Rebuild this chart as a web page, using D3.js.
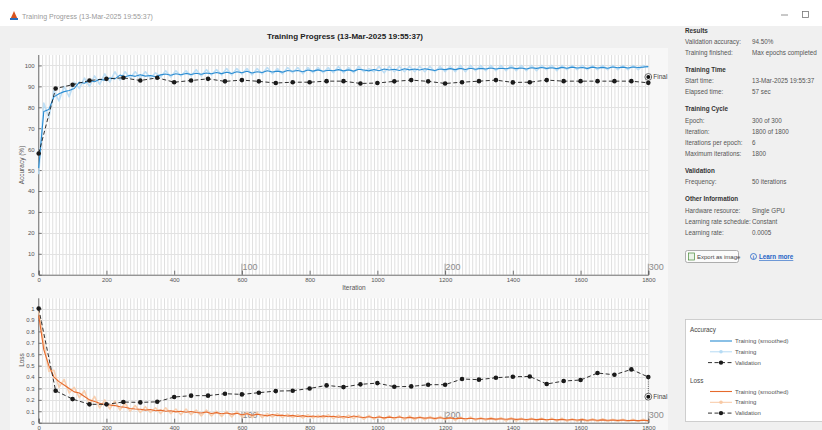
<!DOCTYPE html>
<html>
<head>
<meta charset="utf-8">
<script src="https://cdn.jsdelivr.net/npm/d3@7"></script>
<style>
  html, body { margin: 0; padding: 0; background: #f0f0f0; }
  svg { display: block; font-family: "Liberation Sans", Arial, sans-serif; }
</style>
</head>
<body>
<svg id="fig" width="822" height="430"></svg>
<script>
// ---- Training run data ----
const maxIterations = 1800;
const iterationsPerEpoch = 6;
const epochMarks = [100, 200, 300];
const trainStep = 15;                       // training curves sampled every 15 iterations
const trainIterations = d3.range(0, maxIterations + 1, trainStep);
const validationIterations = d3.range(0, maxIterations + 1, 50);

const accTicks = [0, 10, 20, 30, 40, 50, 60, 70, 80, 90, 100];
const lossTicks = [0, 0.1, 0.2, 0.3, 0.4, 0.5, 0.6, 0.7, 0.8, 0.9, 1];
const iterTicks = [0, 200, 400, 600, 800, 1000, 1200, 1400, 1600, 1800];

const trainAccSmoothed = [
  51, 78, 79, 85, 86.5, 87.5, 88, 89, 92, 91.5,
  92.8, 92.2, 93.4, 93, 94, 93.6, 95.4, 94.6, 95.3, 94.8,
  95.6, 94.9, 95.2, 94.6, 95.5, 95.9, 95.3, 96.0, 95.6, 96.2,
  95.7, 96.3, 95.8, 96.4, 96.0, 96.6, 96.1, 96.8, 96.2, 97.0,
  96.5, 97.2, 96.4, 97.0, 96.6, 97.5, 96.9, 97.3, 96.8, 97.6,
  97.2, 97.6, 97.0, 97.8, 97.3, 97.9, 97.2, 97.7, 97.5, 98.0,
  97.4, 97.9, 97.3, 98.2, 97.8, 97.4, 98.1, 97.5, 98.3, 97.8,
  98.2, 97.6, 98.4, 97.9, 98.3, 97.8, 98.4, 98.0, 97.6, 98.3,
  98.0, 98.5, 98.0, 98.6, 98.1, 98.7, 98.2, 98.6, 98.3, 98.8,
  98.3, 98.7, 98.4, 98.9, 98.5, 98.8, 98.3, 98.9, 98.6, 99.0,
  98.6, 98.9, 98.5, 99.1, 98.7, 99.2, 98.8, 99.0, 98.6, 99.2,
  98.8, 99.1, 98.7, 99.3, 98.9, 99.2, 98.8, 99.3, 99.0, 99.2,
  99.5
];
const trainAccRaw = [
  48, 82, 75, 88, 83, 90, 85, 92, 89, 94,
  90, 95, 91, 96, 92, 97, 93, 97, 94, 97,
  94, 97, 94, 96.5, 94.5, 97.5, 94.5, 97.5, 95, 97.5,
  95, 98, 95, 98, 95.5, 98, 95.5, 98.5, 95.5, 98.5,
  96, 98.5, 95.5, 98.5, 96, 99, 96, 98.5, 96, 99,
  96.5, 99, 96, 99, 96.5, 99, 96.5, 99, 96.5, 99.5,
  96.5, 99, 96.5, 99.5, 97, 98.5, 97, 99.5, 96.5, 99.5,
  97, 99.5, 97, 99.5, 97, 99.5, 97, 99.5, 97, 99.5,
  97, 99.5, 97, 100, 97, 100, 97.5, 100, 97.5, 100,
  97.5, 100, 97.5, 100, 97.5, 100, 97.5, 100, 97.5, 100,
  98, 100, 97.5, 100, 98, 100, 98, 100, 98, 100,
  98, 100, 98, 100, 98, 100, 98, 100, 98, 100,
  99
];
const validationAcc = [
  57.9, 89.0, 90.8, 92.8, 93.6, 94.1, 92.8, 94.1, 92.0, 92.8,
  93.6, 92.4, 93.0, 92.4, 91.6, 92.0, 92.0, 92.5, 92.5, 91.4,
  91.6, 92.4, 93.0, 92.4, 91.4, 92.0, 92.5, 93.0, 91.9, 92.0,
  93.0, 92.5, 92.5, 92.5, 92.5, 92.5, 91.7
];
const finalAcc = 94.5;

const trainLossSmoothed = [
  0.94, 0.64, 0.5, 0.4, 0.36, 0.33, 0.3, 0.27, 0.26, 0.23,
  0.2, 0.185, 0.17, 0.16, 0.155, 0.15, 0.14, 0.135, 0.125, 0.12,
  0.118, 0.11, 0.115, 0.105, 0.11, 0.1, 0.105, 0.095, 0.1, 0.092,
  0.098, 0.09, 0.085, 0.094, 0.08, 0.088, 0.078, 0.085, 0.075, 0.082,
  0.07, 0.078, 0.066, 0.074, 0.068, 0.06, 0.072, 0.062, 0.066, 0.058,
  0.064, 0.055, 0.062, 0.052, 0.058, 0.05, 0.06, 0.052, 0.056, 0.048,
  0.055, 0.046, 0.058, 0.05, 0.045, 0.052, 0.044, 0.05, 0.042, 0.049,
  0.043, 0.05, 0.041, 0.047, 0.04, 0.046, 0.04, 0.044, 0.038, 0.043,
  0.037, 0.042, 0.035, 0.04, 0.034, 0.039, 0.033, 0.037, 0.032, 0.036,
  0.031, 0.035, 0.03, 0.034, 0.029, 0.033, 0.028, 0.032, 0.027, 0.031,
  0.026, 0.03, 0.025, 0.029, 0.024, 0.028, 0.023, 0.027, 0.022, 0.026,
  0.022, 0.025, 0.021, 0.024, 0.02, 0.023, 0.019, 0.022, 0.018, 0.021,
  0.018
];
const trainLossRaw = [
  0.98, 0.7, 0.45, 0.46, 0.31, 0.38, 0.26, 0.31, 0.22, 0.28,
  0.16, 0.23, 0.13, 0.2, 0.12, 0.19, 0.11, 0.17, 0.1, 0.15,
  0.09, 0.14, 0.09, 0.13, 0.08, 0.13, 0.08, 0.12, 0.07, 0.12,
  0.07, 0.11, 0.06, 0.11, 0.06, 0.1, 0.055, 0.1, 0.05, 0.1,
  0.05, 0.09, 0.045, 0.09, 0.045, 0.08, 0.05, 0.08, 0.045, 0.075,
  0.045, 0.07, 0.04, 0.07, 0.04, 0.065, 0.04, 0.07, 0.035, 0.065,
  0.035, 0.065, 0.035, 0.065, 0.03, 0.065, 0.03, 0.06, 0.03, 0.06,
  0.03, 0.06, 0.025, 0.06, 0.025, 0.055, 0.025, 0.055, 0.025, 0.055,
  0.025, 0.05, 0.02, 0.05, 0.02, 0.05, 0.02, 0.045, 0.02, 0.045,
  0.02, 0.045, 0.015, 0.045, 0.015, 0.04, 0.015, 0.04, 0.015, 0.04,
  0.015, 0.04, 0.012, 0.04, 0.012, 0.035, 0.012, 0.035, 0.01, 0.035,
  0.01, 0.035, 0.01, 0.03, 0.01, 0.03, 0.008, 0.03, 0.008, 0.03,
  0.01
];
const validationLoss = [
  1.0, 0.28, 0.207, 0.161, 0.161, 0.181, 0.178, 0.183, 0.225, 0.237,
  0.237, 0.254, 0.248, 0.263, 0.277, 0.28, 0.30, 0.327, 0.312, 0.336,
  0.347, 0.315, 0.318, 0.333, 0.333, 0.383, 0.377, 0.394, 0.403, 0.405,
  0.339, 0.365, 0.374, 0.435, 0.42, 0.467, 0.40
];
const finalLoss = 0.228;

// Info panel content
const infoSections = [
  { title: "Results", rows: [
    ["Validation accuracy:", "94.50%"],
    ["Training finished:", "Max epochs completed"] ] },
  { title: "Training Time", rows: [
    ["Start time:", "13-Mar-2025 19:55:37"],
    ["Elapsed time:", "57 sec"] ] },
  { title: "Training Cycle", rows: [
    ["Epoch:", "300 of 300"],
    ["Iteration:", "1800 of 1800"],
    ["Iterations per epoch:", "6"],
    ["Maximum iterations:", "1800"] ] },
  { title: "Validation", rows: [
    ["Frequency:", "50 iterations"] ] },
  { title: "Other Information", rows: [
    ["Hardware resource:", "Single GPU"],
    ["Learning rate schedule:", "Constant"],
    ["Learning rate:", "0.0005"] ] }
];

// ---- Colours ----
const C = {
  accSmooth: "#2a8cd2", accRaw: "#b5dbf4",
  lossSmooth: "#e66a2c", lossRaw: "#f8c9a4",
  val: "#1a1a1a", axis: "#555", tickText: "#555",
  vgrid: "#dcdcdc", hgrid: "#e2e2e2"
};

const svg = d3.select("#fig");

// window frame
svg.append("rect").attr("x", 0).attr("y", 0).attr("width", 822).attr("height", 430).attr("fill", "#f0f0f0");
svg.append("rect").attr("x", 0).attr("y", 0).attr("width", 822).attr("height", 26).attr("fill", "#ffffff");
// app icon
svg.append("path").attr("d", "M10,20 L14,11 L18,20 Z").attr("fill", "#d9531e");
svg.append("rect").attr("x", 10).attr("y", 18).attr("width", 8).attr("height", 2).attr("fill", "#2a6ebb");
svg.append("text").attr("x", 22).attr("y", 18.5).attr("font-size", 7).attr("fill", "#9a9a9a")
  .text("Training Progress (13-Mar-2025 19:55:37)");
svg.append("line").attr("x1", 781).attr("x2", 788).attr("y1", 15).attr("y2", 15).attr("stroke", "#777").attr("stroke-width", 0.8);
svg.append("rect").attr("x", 802.5).attr("y", 11.5).attr("width", 6).attr("height", 6).attr("fill", "none").attr("stroke", "#777").attr("stroke-width", 0.8);

// plot panel backdrop
svg.append("rect").attr("x", 10).attr("y", 48).attr("width", 658).attr("height", 382).attr("fill", "#f7f7f7");

svg.append("text").attr("x", 345).attr("y", 39).attr("text-anchor", "middle")
  .attr("font-size", 8).attr("font-weight", "bold").attr("fill", "#222")
  .text("Training Progress (13-Mar-2025 19:55:37)");

// ---- Scales ----
const x = d3.scaleLinear().domain([0, maxIterations]).range([38.7, 648.3]);
const yAcc = d3.scaleLinear().domain([0, 105]).range([274.7, 55]);
const yLoss = d3.scaleLinear().domain([0, 1.09]).range([422.7, 298.3]);

function drawPanel(opts) {
  const { y, ticks, fmt, label, labelY, clipId } = opts;
  const [y0, y1] = y.range();
  const g = svg.append("g");
  g.append("rect").attr("x", x(0)).attr("y", y1).attr("width", x(maxIterations) - x(0)).attr("height", y0 - y1).attr("fill", "#ffffff");
  // thin vertical lines every 10 iterations
  g.append("g").selectAll("line").data(d3.range(0, maxIterations + 1, 10)).join("line")
    .attr("x1", d => x(d) + 0.5).attr("x2", d => x(d) + 0.5)
    .attr("y1", y1).attr("y2", y0).attr("stroke", C.vgrid).attr("stroke-width", 0.9);
  // horizontal grid at ticks
  g.append("g").selectAll("line").data(ticks).join("line")
    .attr("x1", x(0)).attr("x2", x(maxIterations))
    .attr("y1", d => Math.round(y(d)) + 0.5).attr("y2", d => Math.round(y(d)) + 0.5)
    .attr("stroke", C.hgrid).attr("stroke-width", 1);
  // epoch markers
  epochMarks.forEach(ep => {
    const xi = x(ep * iterationsPerEpoch);
    g.append("line").attr("x1", xi).attr("x2", xi).attr("y1", y0 - 11).attr("y2", y0)
      .attr("stroke", "#8c8c8c").attr("stroke-width", 0.8);
    g.append("text").attr("x", xi + 0.5).attr("y", y0 - 5).attr("font-size", 9).attr("fill", "#8c8c8c").text(ep);
  });
  // axes with inward ticks
  const ax = g.append("g").attr("transform", `translate(${x(0)},0)`)
    .call(d3.axisLeft(y).tickValues(ticks).tickFormat(fmt).tickSize(-3).tickPadding(4));
  const bx = g.append("g").attr("transform", `translate(0,${y0})`)
    .call(d3.axisBottom(x).tickValues(iterTicks).tickFormat(d3.format("d")).tickSize(-4).tickPadding(3));
  [ax, bx].forEach(a => {
    a.select(".domain").attr("stroke", C.axis).attr("stroke-width", 0.8);
    a.selectAll(".tick line").attr("stroke", C.axis).attr("stroke-width", 0.8);
    a.selectAll(".tick text").attr("font-size", 6).attr("fill", C.tickText)
      .attr("font-family", "Liberation Sans, Arial, sans-serif");
  });
  ax.select(".domain").attr("d", `M0,${y1}V${y0}`);
  g.append("text").attr("transform", `translate(24,${labelY}) rotate(-90)`)
    .attr("text-anchor", "middle").attr("font-size", 6.5).attr("fill", "#555").text(label);
  svg.append("clipPath").attr("id", clipId).append("rect")
    .attr("x", x(0) - 4).attr("y", y1 - 4).attr("width", x(maxIterations) - x(0) + 8).attr("height", y0 - y1 + 4);
  return g;
}

function drawSeries(g, y, raw, smooth, val, finalVal, rawColor, smoothColor, clipId) {
  const plot = g.append("g").attr("clip-path", `url(#${clipId})`);
  const line = d3.line().x((d, i) => x(trainIterations[i])).y(d => y(d));
  plot.append("path").attr("d", line(raw)).attr("fill", "none")
    .attr("stroke", rawColor).attr("stroke-width", 1.6).attr("stroke-linejoin", "round").attr("opacity", 0.85);
  plot.append("path").attr("d", line(smooth)).attr("fill", "none")
    .attr("stroke", smoothColor).attr("stroke-width", 1.1).attr("stroke-linejoin", "round");
  const vline = d3.line().x((d, i) => x(validationIterations[i])).y(d => y(d));
  plot.append("path").attr("d", vline(val)).attr("fill", "none")
    .attr("stroke", C.val).attr("stroke-width", 0.9).attr("stroke-dasharray", "4,2.5");
  plot.selectAll("circle.v").data(val).join("circle").attr("class", "v")
    .attr("cx", (d, i) => x(validationIterations[i])).attr("cy", d => y(d))
    .attr("r", 2.3).attr("fill", C.val);
  // final value marker
  const xf = x(maxIterations), lastVal = val[val.length - 1];
  g.append("line").attr("x1", xf).attr("x2", xf).attr("y1", y(lastVal)).attr("y2", y(finalVal))
    .attr("stroke", "#333").attr("stroke-width", 0.8).attr("stroke-dasharray", "1,1.2");
  g.append("circle").attr("cx", xf).attr("cy", y(finalVal)).attr("r", 3.4)
    .attr("fill", "#ffffff").attr("stroke", "#444").attr("stroke-width", 0.8);
  g.append("circle").attr("cx", xf).attr("cy", y(finalVal)).attr("r", 2).attr("fill", "#111");
  g.append("text").attr("x", xf + 5).attr("y", y(finalVal) + 2.3).attr("font-size", 6.5)
    .attr("fill", "#444").text("Final");
}

const gAcc = drawPanel({ y: yAcc, ticks: accTicks, fmt: d3.format("d"), label: "Accuracy (%)", labelY: 165, clipId: "clipAcc" });
svg.append("text").attr("x", 354).attr("y", 290).attr("text-anchor", "middle")
  .attr("font-size", 6.5).attr("fill", "#555").text("Iteration");
drawSeries(gAcc, yAcc, trainAccRaw, trainAccSmoothed, validationAcc, finalAcc, C.accRaw, C.accSmooth, "clipAcc");

const gLoss = drawPanel({ y: yLoss, ticks: lossTicks, fmt: d => d === 0 ? "0" : d === 1 ? "1" : d3.format(".1f")(d), label: "Loss", labelY: 360, clipId: "clipLoss" });
drawSeries(gLoss, yLoss, trainLossRaw, trainLossSmoothed, validationLoss, finalLoss, C.lossRaw, C.lossSmooth, "clipLoss");

// ---- Info panel ----
const info = svg.append("g").attr("font-size", 6.3);
let yy = 32.5;
infoSections.forEach((sec, si) => {
  if (si > 0) yy += 6;
  info.append("text").attr("x", 685).attr("y", yy).attr("font-weight", "bold").attr("fill", "#333").text(sec.title);
  yy += 11.15;
  sec.rows.forEach(r => {
    info.append("text").attr("x", 685).attr("y", yy).attr("fill", "#555").text(r[0]);
    info.append("text").attr("x", 752).attr("y", yy).attr("fill", "#555").text(r[1]);
    yy += 11.15;
  });
});

// buttons
const btn = svg.append("g");
btn.append("rect").attr("x", 685.5).attr("y", 250.5).attr("width", 53).attr("height", 12).attr("rx", 2)
  .attr("fill", "#fbfbfb").attr("stroke", "#9a9a9a").attr("stroke-width", 0.8);
btn.append("rect").attr("x", 688.5).attr("y", 253).attr("width", 6).attr("height", 7).attr("fill", "#eaf4e8").attr("stroke", "#4b8b3b").attr("stroke-width", 0.7);
btn.append("text").attr("x", 697).attr("y", 259).attr("font-size", 6).attr("fill", "#444").text("Export as image");
btn.append("circle").attr("cx", 753.5).attr("cy", 256.5).attr("r", 3).attr("fill", "none").attr("stroke", "#1f63c6").attr("stroke-width", 0.8);
btn.append("text").attr("x", 753.5).attr("y", 258.6).attr("text-anchor", "middle").attr("font-size", 5).attr("font-weight", "bold").attr("fill", "#1f63c6").text("i");
btn.append("text").attr("x", 759).attr("y", 259).attr("font-size", 6.3).attr("font-weight", "bold")
  .attr("fill", "#1f63c6").attr("text-decoration", "underline").text("Learn more");

// ---- Legend ----
const lg = svg.append("g");
lg.append("rect").attr("x", 685.5).attr("y", 319.5).attr("width", 140).attr("height", 102)
  .attr("fill", "#ffffff").attr("stroke", "#c4c4c4").attr("stroke-width", 0.8);
const legendGroups = [
  { title: "Accuracy", y: 330, smooth: C.accSmooth, raw: C.accRaw },
  { title: "Loss", y: 380.5, smooth: C.lossSmooth, raw: C.lossRaw }
];
legendGroups.forEach(grp => {
  lg.append("text").attr("x", 690).attr("y", grp.y + 2).attr("font-size", 6.3).attr("fill", "#444").text(grp.title);
  const rows = [
    { label: "Training (smoothed)", kind: "smooth" },
    { label: "Training", kind: "raw" },
    { label: "Validation", kind: "val" }
  ];
  rows.forEach((r, i) => {
    const ry = grp.y + 11 + i * 10.8;
    if (r.kind === "smooth") {
      lg.append("line").attr("x1", 710).attr("x2", 732).attr("y1", ry).attr("y2", ry).attr("stroke", grp.smooth).attr("stroke-width", 1.1);
    } else if (r.kind === "raw") {
      lg.append("line").attr("x1", 710).attr("x2", 732).attr("y1", ry).attr("y2", ry).attr("stroke", grp.raw).attr("stroke-width", 1);
      lg.append("circle").attr("cx", 721).attr("cy", ry).attr("r", 1.8).attr("fill", grp.raw);
    } else {
      lg.append("line").attr("x1", 708).attr("x2", 734).attr("y1", ry).attr("y2", ry).attr("stroke", C.val).attr("stroke-width", 0.9).attr("stroke-dasharray", "4,2.5");
      lg.append("circle").attr("cx", 721).attr("cy", ry).attr("r", 2.2).attr("fill", C.val);
    }
    lg.append("text").attr("x", 735).attr("y", ry + 2).attr("font-size", 6).attr("fill", "#555").text(r.label);
  });
});
</script>
</body>
</html>
